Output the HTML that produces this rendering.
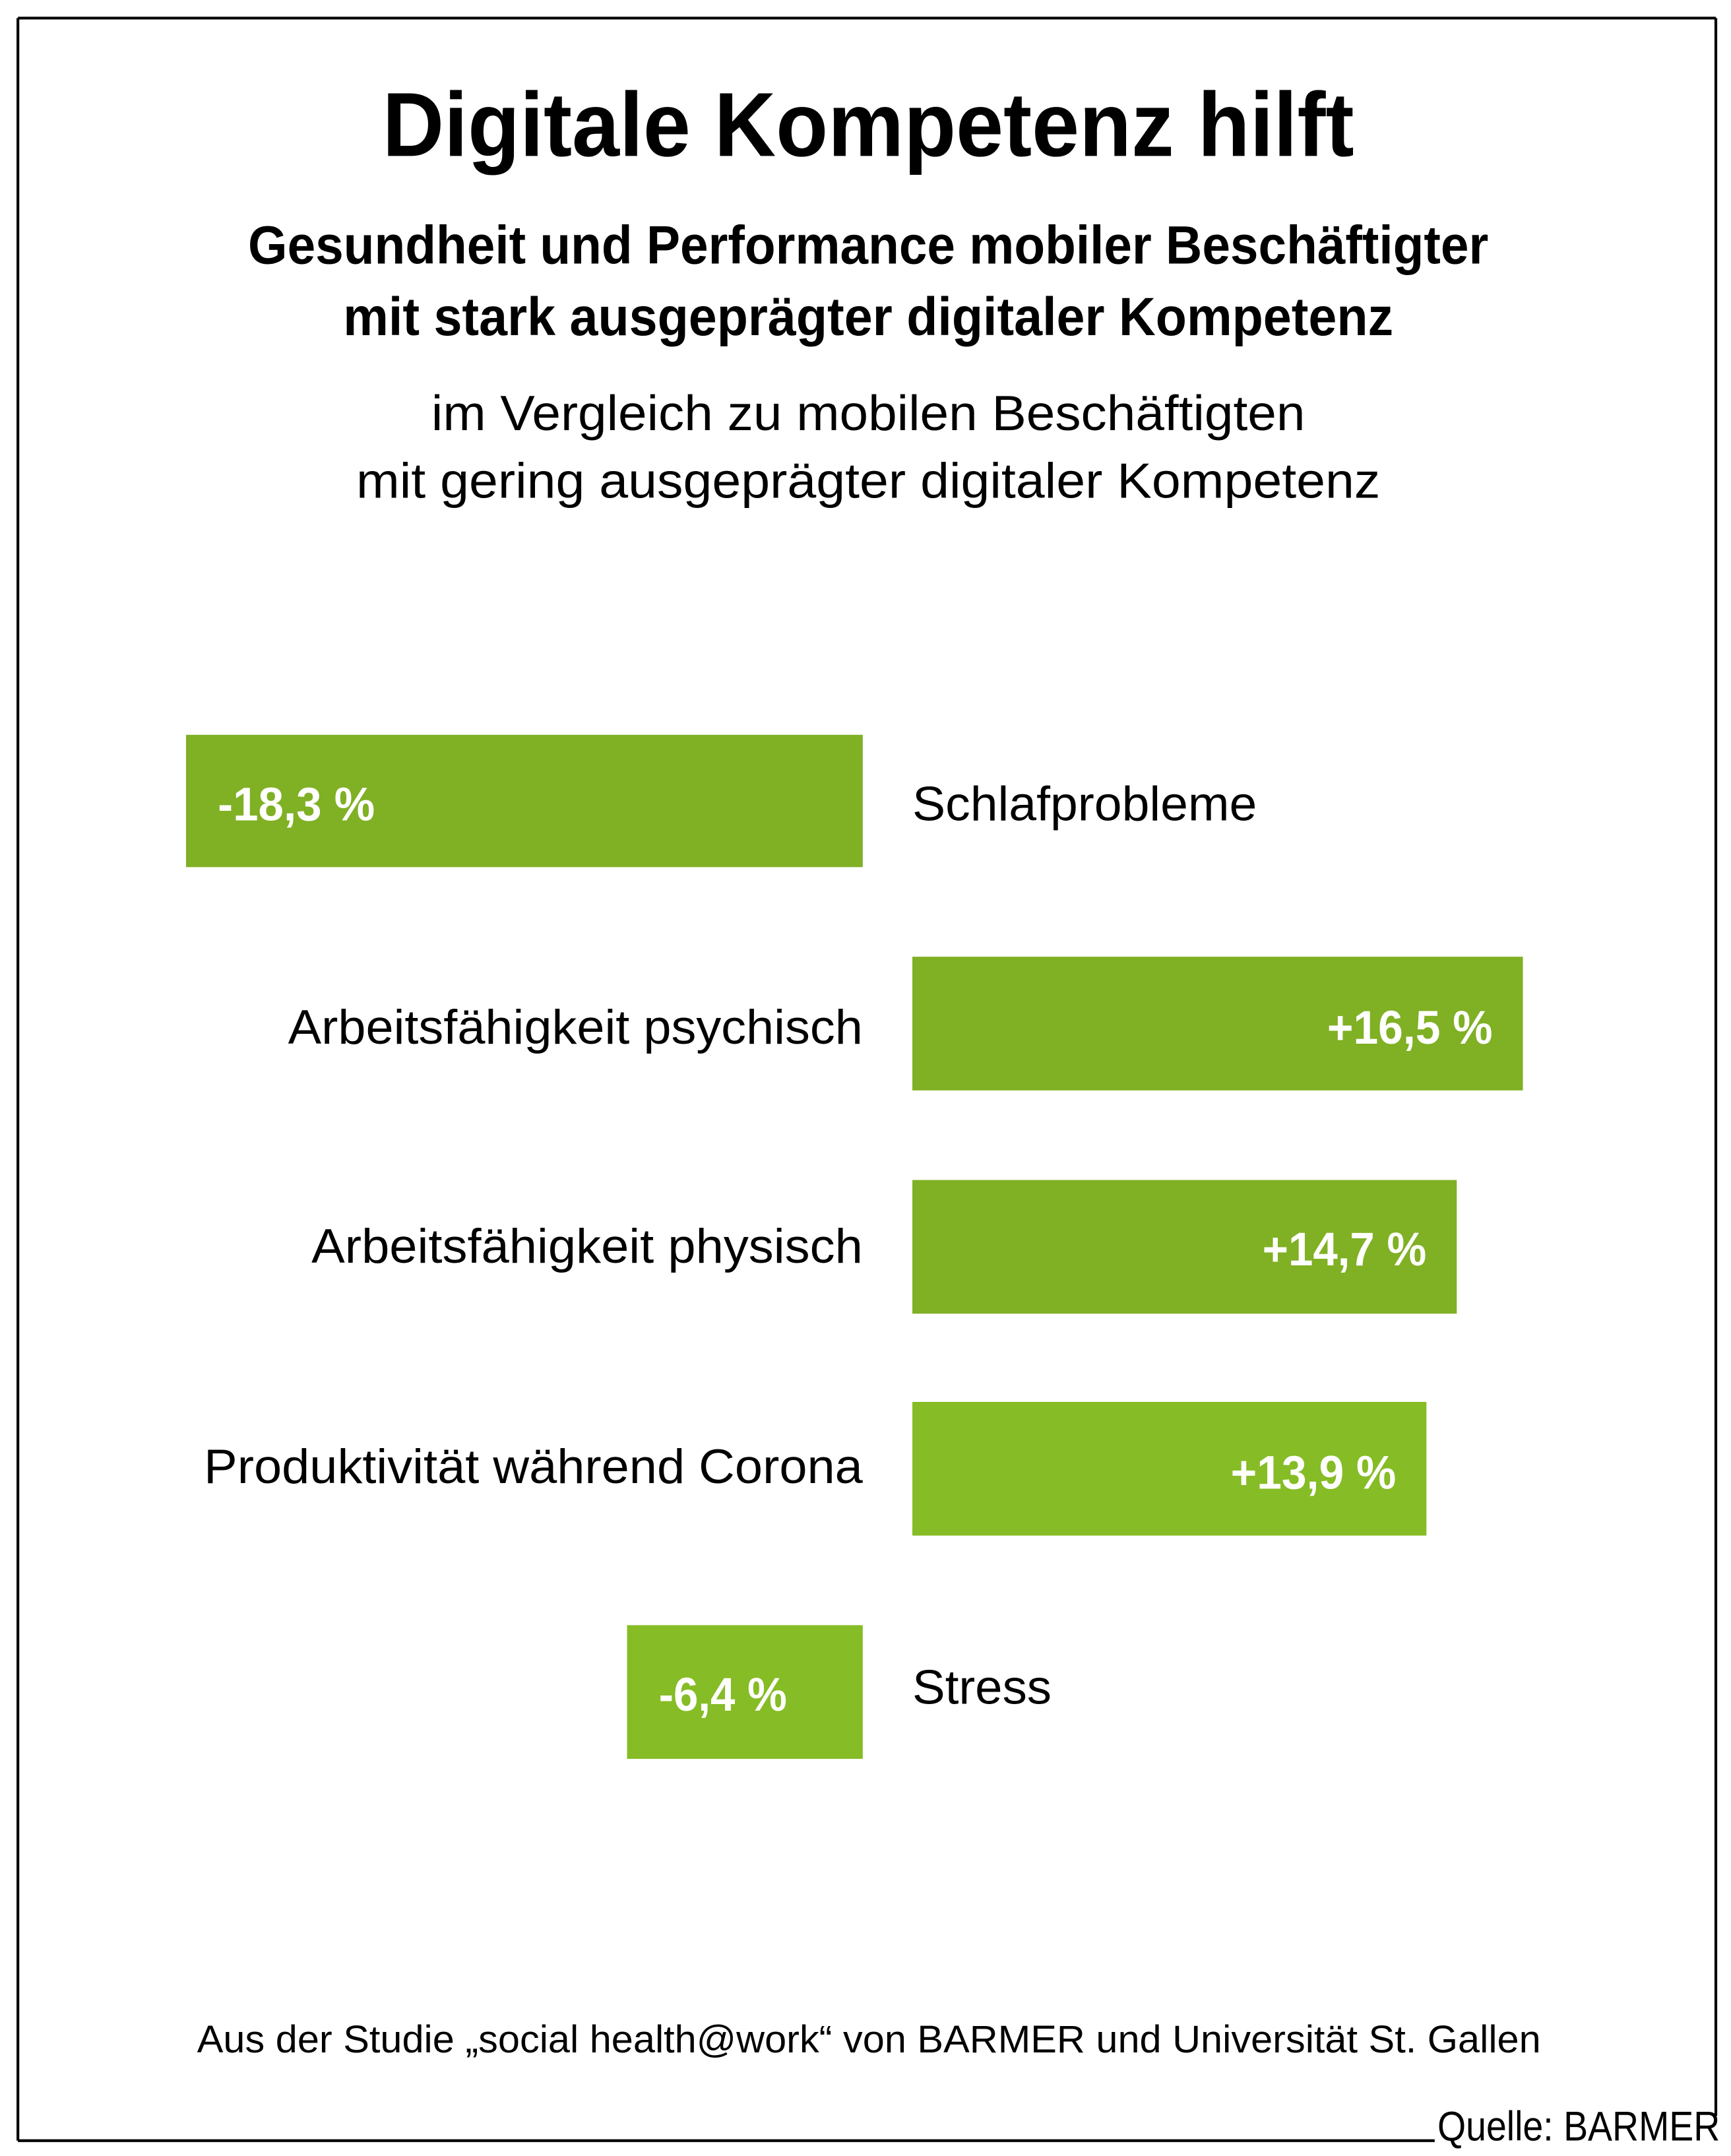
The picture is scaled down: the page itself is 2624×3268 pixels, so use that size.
<!DOCTYPE html>
<html><head><meta charset="utf-8"><style>
html,body{margin:0;padding:0;background:#fff;}
svg{display:block;}
text{font-family:"Liberation Sans",sans-serif;}
</style></head><body>
<svg width="2624" height="3268" viewBox="0 0 1256 1564" xmlns="http://www.w3.org/2000/svg">
<rect width="1256" height="1564" fill="#fff"/>
<g stroke="#000" stroke-width="2" fill="none">
<line x1="13" y1="13" x2="1245" y2="13"/>
<line x1="13" y1="13" x2="13" y2="1553"/>
<line x1="1245" y1="13" x2="1245" y2="1535"/>
<line x1="13" y1="1553" x2="1041" y2="1553"/>
</g>
<text x="630" y="113" font-size="66" font-weight="bold" text-anchor="middle" textLength="705" lengthAdjust="spacingAndGlyphs">Digitale Kompetenz hilft</text>
<text x="630" y="191" font-size="39" font-weight="bold" text-anchor="middle" textLength="900" lengthAdjust="spacingAndGlyphs">Gesundheit und Performance mobiler Beschäftigter</text>
<text x="630" y="243" font-size="39" font-weight="bold" text-anchor="middle" textLength="762" lengthAdjust="spacingAndGlyphs">mit stark ausgeprägter digitaler Kompetenz</text>
<text x="630" y="312" font-size="36" text-anchor="middle" textLength="634" lengthAdjust="spacingAndGlyphs">im Vergleich zu mobilen Beschäftigten</text>
<text x="630" y="361" font-size="36" text-anchor="middle" textLength="743" lengthAdjust="spacingAndGlyphs">mit gering ausgeprägter digitaler Kompetenz</text>

<rect x="135" y="533" width="491" height="96" fill="#80b024"/>
<rect x="662" y="694" width="443" height="97" fill="#80b024"/>
<rect x="662" y="856" width="395" height="97" fill="#80b024"/>
<rect x="662" y="1017" width="373" height="97" fill="#86bc25"/>
<rect x="455" y="1179" width="171" height="97" fill="#86bc25"/>

<g fill="#fff" font-weight="bold" font-size="34">
<text x="158" y="595" textLength="114" lengthAdjust="spacingAndGlyphs">-18,3 %</text>
<text x="963" y="757" textLength="120" lengthAdjust="spacingAndGlyphs">+16,5 %</text>
<text x="916" y="918" textLength="119" lengthAdjust="spacingAndGlyphs">+14,7 %</text>
<text x="893" y="1080" textLength="120" lengthAdjust="spacingAndGlyphs">+13,9 %</text>
<text x="478" y="1241" textLength="93" lengthAdjust="spacingAndGlyphs">-6,4 %</text>
</g>
<g fill="#000" font-size="35">
<text x="662" y="595" textLength="250" lengthAdjust="spacingAndGlyphs">Schlafprobleme</text>
<text x="209" y="757" textLength="417" lengthAdjust="spacingAndGlyphs">Arbeitsfähigkeit psychisch</text>
<text x="226" y="916" textLength="400" lengthAdjust="spacingAndGlyphs">Arbeitsfähigkeit physisch</text>
<text x="148" y="1076" textLength="478" lengthAdjust="spacingAndGlyphs">Produktivität während Corona</text>
<text x="662" y="1236" textLength="101" lengthAdjust="spacingAndGlyphs">Stress</text>
</g>
<text x="143" y="1489" font-size="28" textLength="975" lengthAdjust="spacingAndGlyphs">Aus der Studie „social health@work“ von BARMER und Universität St. Gallen</text>
<text x="1043" y="1553" font-size="30" textLength="205" lengthAdjust="spacingAndGlyphs">Quelle: BARMER</text>
</svg>
</body></html>
